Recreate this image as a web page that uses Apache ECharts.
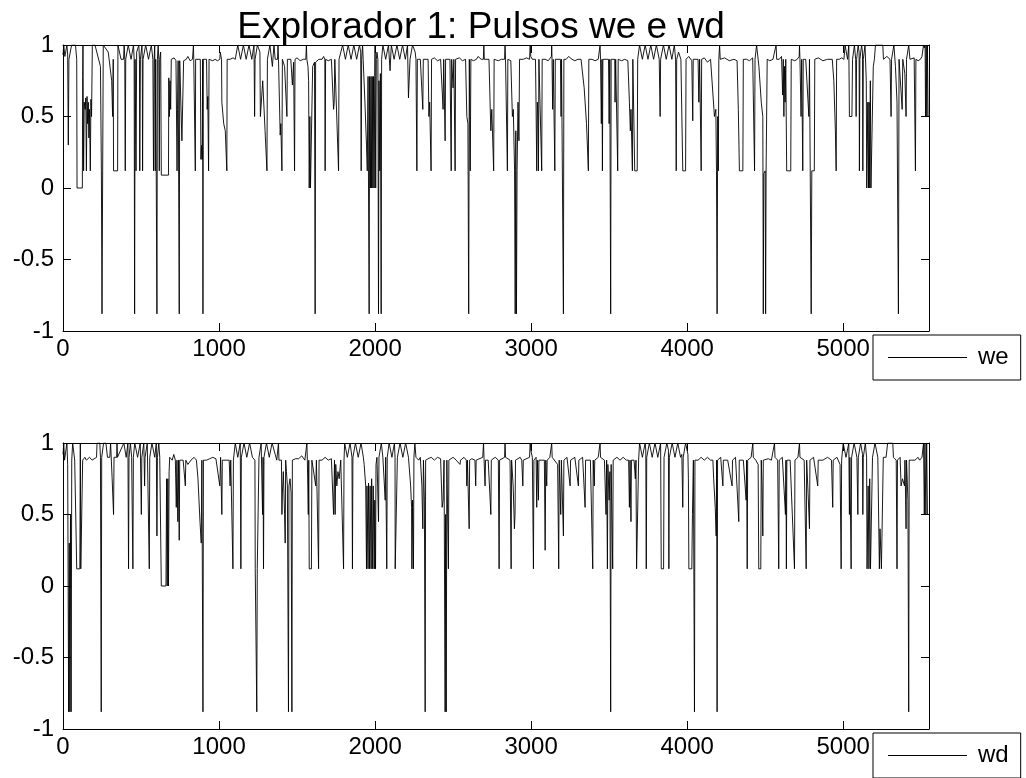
<!DOCTYPE html>
<html>
<head>
<meta charset="utf-8">
<script src="https://cdn.jsdelivr.net/npm/echarts@6/dist/echarts.min.js"></script>
<style>html,body{margin:0;padding:0;background:#fff}#c{width:1026px;height:778px}</style>
</head>
<body>
<div id="c"></div>
<script>
const titleText = 'Explorador 1: Pulsos we e wd';
const weName = 'we';
const wdName = 'wd';

const wePts = [[0,0.93],[5,1],[12,0.92],[20,0.92],[25,1],[30,0.93],[34,0.3],[38,0.9],[50,0.9],[55,1],[80,1],[88,0.9],[90,0],[124,0],[126,0.78],[128,1],[132,0.12],[136,0.6],[142,0.55],[146,0.63],[150,0.12],[154,0.64],[158,0.45],[162,0.6],[166,0.35],[170,0.55],[175,0.12],[179,0.62],[183,0.5],[188,1],[205,1],[240,0.85],[246,0.12],[250,-0.88],[254,-0.88],[258,1],[270,1],[290,0.95],[312,0.75],[318,0.5],[322,0.9],[324,0.12],[350,0.12],[352,1],[360,1],[372,0.9],[388,0.9],
[392,1],[396,0.9],[399,0.12],[402,0.9],[418,1],[436,0.9],[452,1],[456,0.9],[459,-0.88],[462,0.9],[468,0.12],[472,0.95],[486,1],[490,0.9],[492,0.12],[496,0.9],[506,1],[508,0.9],[510,0.12],[513,0.9],[530,1],[548,0.9],[566,1],[576,0.9],[580,0.12],[584,0.9],[588,1],[591,0.12],[594,0.9],[599,0.9],[602,-0.88],[605,0.9],[610,1],
[614,0.9],[617,0.12],[620,0.9],[626,0.95],[630,0.09],[676,0.09],[678,0.77],[682,0.5],[686,0.75],[690,0.55],[694,0.9],[700,0.89],[712,0.91],[720,0.91],[724,0.89],[728,0.89],[731,0.12],[734,0.55],[738,0.89],[742,0.89],[745,-0.88],[748,0.89],[758,0.89],[762,0.33],[770,0.33],[773,0.89],[790,0.9],[800,0.92],[815,0.89],[830,0.9],[836,1],[838,0.9],[846,0.9],[848,0.12],[850,0.9],[880,0.9],[884,0.2],[888,0.3],[892,0.2],[895,0.9],[897,-0.88],[899,0.9],[920,0.9],[924,0.55],[928,0.64],[933,0.12],[936,0.9],[960,0.89],[975,0.9],[990,0.89],[1005,0.9],[1008,0.95],[1014,0.95],[1016,0.9],[1018,0.6],[1030,0.45],[1040,0.4],[1050,0.12],[1052,0.9],[1070,0.9],[1090,0.91],
[1104,0.9],[1120,1],[1138,0.9],[1156,1],[1174,0.9],[1192,1],[1210,0.9],[1224,1],[1228,0.5],[1231,0.9],[1246,1],[1262,0.95],[1265,0.5],[1275,0.5],[1280,0.75],[1295,0.4],[1307,0.12],[1310,0.9],[1326,1],[1342,0.85],[1352,1],[1360,0.9],
[1375,0.9],[1378,1],[1381,0.9],[1388,0.9],[1392,0.37],[1396,0.45],[1403,0.12],[1406,0.9],[1420,0.85],[1435,0.5],[1438,0.9],[1460,0.9],[1470,0.72],[1478,0.88],[1484,0.12],[1487,0.9],[1500,0.91],[1520,0.89],[1540,0.9],[1556,0.9],[1560,1],[1563,0.9],[1570,0.85],[1574,0.75],[1578,0],[1582,0.5],[1586,0],[1595,0],[1600,0.85],[1612,0.88],[1616,-0.88],[1619,0.88],[1640,0.9],[1660,0.9],[1670,0.92],[1678,0.9],[1680,0.12],[1683,0.9],[1700,0.89],[1720,0.9],[1730,0.9],[1734,0.55],[1738,0.6],[1742,0.9],[1752,0.9],[1766,0.12],[1769,0.9],[1780,0.9],[1792,1],
[1810,0.9],[1828,1],[1846,0.9],[1864,1],[1882,0.9],[1900,1],[1908,0.95],[1911,0.12],[1914,0.9],[1920,1],[1935,0.6],[1945,0.3],[1950,0.12],[1955,0.78],[1958,0],[1962,-0.88],[1965,0.78],[1970,0],[1974,0.78],[1978,0],[1982,0.78],[1986,0],[1990,0.78],[1994,0],[1998,0.78],[2000,1],[2004,0],[2008,0.9],[2012,0.95],[2018,0.9],[2022,-0.88],[2025,0.75],[2030,0.12],[2034,0.8],[2039,-0.88],[2042,0.9],
[2050,1],[2068,0.9],[2086,1],[2096,0.82],[2104,1],[2122,0.9],[2140,1],[2158,0.9],[2176,1],[2194,0.9],[2208,1],[2214,0.63],[2220,0.63],[2224,0.9],[2240,1],[2257,0.95],
[2262,0.9],[2268,0.12],[2271,0.9],[2290,0.9],[2306,0.55],[2309,0.9],[2340,0.9],[2345,0.5],[2350,0.6],[2359,0.12],[2362,0.9],[2380,0.91],[2400,0.89],[2420,0.9],[2436,0.55],[2440,0.9],[2449,0.33],[2452,0.9],[2480,0.9],[2488,0.12],[2491,0.9],[2500,0.7],[2505,0.9],[2513,0.12],[2516,0.9],[2540,0.91],[2560,0.89],[2580,0.9],[2588,0.5],[2595,0.45],[2600,-0.88],[2604,0.9],[2610,0.12],[2614,0.9],[2630,0.89],[2650,0.9],[2660,0.92],[2670,0.92],[2680,0.9],[2694,0.9],[2697,1],[2700,0.9],[2730,0.9],[2737,0.6],[2742,0.4],[2748,0.55],[2760,0.12],[2763,0.9],[2790,0.89],[2810,0.9],[2830,0.9],[2833,1],[2836,0.9],[2848,0.12],[2851,0.9],[2870,0.89],[2880,0.5],[2886,0.55],[2894,0.12],[2898,-0.88],[2902,0.4],[2906,-0.88],[2910,0.12],[2916,0.6],[2922,0.33],[2926,0.9],[2950,0.9],[2970,0.91],[2990,0.9],[2994,1],[2998,0.92],[3005,0.92],[3008,0.9],[3028,0.9],[3032,0.55],[3036,0.12],[3040,0.6],[3044,0.5],[3047,0.12],[3050,0.9],[3068,0.12],[3071,0.9],[3090,0.9],[3110,0.89],[3130,0.92],[3132,1],[3134,0.9],[3138,0.55],[3142,0.9],[3152,0.12],[3155,0.9],[3188,0.9],[3192,0.5],[3195,0.9],[3204,0.9],[3207,-0.88],[3210,0.9],[3225,0.9],[3240,0.92],[3262,0.9],[3280,0.89],[3300,0.9],[3320,0.9],[3340,0.7],[3355,0.45],[3367,0.12],[3370,0.9],[3390,0.9],[3410,0.89],[3430,0.9],[3442,1],[3445,0.9],[3450,0.45],[3454,0.9],[3457,0.12],[3460,0.9],[3496,0.9],[3500,0.45],[3504,0.9],[3510,-0.88],[3513,0.9],[3536,0.9],[3538,0.6],[3542,0.9],[3555,0.12],[3558,0.9],[3580,0.89],[3600,0.9],[3620,0.89],[3630,0.6],[3636,0.4],[3640,0.55],[3649,0.12],[3652,0.9],[3660,0.9],[3664,0.12],[3680,0.12],[3683,0.9],
[3695,1],[3713,0.9],[3731,1],[3749,0.9],[3767,1],[3785,0.9],[3803,1],[3821,0.9],[3827,0.5],[3830,0.9],[3848,1],[3866,0.9],[3884,1],[3902,0.9],[3918,1],[3926,0.9],[3930,0.12],[3933,0.9],
[3945,0.95],[3960,0.9],[3972,0.12],[3990,0.12],[3993,0.9],[4010,0.92],[4030,0.89],[4036,0.47],[4039,0.9],[4070,0.9],[4075,0.6],[4080,0.9],[4090,0.12],[4093,0.9],[4110,0.91],[4130,0.88],[4150,0.9],[4160,0.9],[4175,0.5],[4184,0.55],[4188,0.12],[4192,-0.88],[4196,0.5],[4200,0.12],[4203,0.9],[4208,1],[4212,0.9],[4240,0.91],[4270,0.89],[4300,0.9],[4320,0.89],[4328,0.55],[4331,0.55],[4335,0.12],[4357,0.12],[4360,0.9],[4380,0.9],[4400,0.89],[4420,0.91],[4432,0.12],[4435,0.9],[4445,1],[4460,0.85],[4475,0.6],[4485,0.5],[4488,-0.88],[4491,0.1],[4500,0.12],[4503,-0.88],[4506,0.12],[4510,0.12],[4513,0.9],[4530,0.89],[4550,0.9],[4570,1],[4574,0.9],[4590,0.9],[4605,0.92],[4612,0.65],[4616,0.9],[4620,0.5],[4624,0.85],[4628,0.6],[4632,0.9],[4638,0.12],[4664,0.12],[4667,0.9],[4690,0.89],[4705,0.9],[4718,0.92],[4720,1],[4723,0.9],[4730,0.5],[4734,0.9],[4741,0.12],[4744,0.9],[4760,0.9],[4780,0.5],[4784,0.9],[4795,-0.88],[4799,0.12],[4815,0.12],[4818,0.9],[4840,0.91],[4870,0.89],[4900,0.9],[4930,0.9],[4940,0.75],[4950,0.4],[4955,0.12],[4958,0.9],[4975,0.9],[4990,0.91],[5005,0.9],
[5012,1],[5028,0.9],[5036,1],[5040,0.5],[5056,0.5],[5060,0.9],[5072,1],[5080,0.9],[5083,0.5],[5086,0.9],[5096,1],[5102,0.95],[5104,0.12],[5107,0.9],[5118,1],[5124,0.95],[5126,0.12],[5129,0.9],[5140,1],
[5148,0.75],[5151,0],[5158,0.6],[5162,0],[5166,0.6],[5170,0],[5174,0.75],[5178,0],[5190,0],[5193,0.85],[5200,0.9],[5207,1],[5254,1],[5258,0.9],[5270,0.9],[5280,0.92],[5300,0.9],[5307,0.5],[5310,0.9],[5325,1],[5335,0.85],[5345,0.6],[5354,-0.88],[5358,0.9],[5370,0.9],[5378,0.55],[5382,0.9],[5395,0.8],[5403,0.5],[5406,0.9],[5420,1],[5428,0.9],[5440,0.9],[5455,0.91],[5463,0.12],[5466,0.9],[5480,0.89],[5495,0.9],[5505,0.92],[5512,0.92],[5515,1],[5520,0.98],[5525,1],[5528,0.5],[5532,1],[5536,0.5],[5540,1],[5544,0.5],[5548,0.5]];

const wdPts = [[0,0.92],[5,1],[10,0.88],[20,0.88],[25,1],[30,0.85],[34,0.85],[36,-0.88],[40,0.3],[44,-0.88],[48,0.5],[52,-0.88],[56,0.88],[62,1],[70,1],[75,0.88],[84,0.88],[88,0.12],[108,0.12],[111,1],[114,0.12],[124,0.12],[126,0.88],[135,0.88],[140,0.9],[150,0.88],[170,0.9],[186,0.88],[215,0.9],[218,1],[236,1],[240,0.9],[243,0.9],[245,-0.88],[248,0.9],[260,1],[275,1],[285,0.9],[300,0.9],[305,1],[315,0.75],[324,0.5],[327,0.9],[344,0.9],[346,1],[349,0.9],
[390,1],[405,0.9],[416,1],[420,0.12],[423,0.9],[432,1],[440,0.9],[448,0.12],[451,0.9],
[460,1],[478,0.9],[495,1],[502,0.5],[505,0.9],[518,1],[523,0.7],[526,0.9],[540,1],[553,0.12],[556,0.9],[570,1],[588,0.9],[598,1],[602,0.35],[605,0.9],[614,1],[620,0.9],
[626,0.9],[630,0],[660,0],[664,0.75],[668,0],[672,0.75],[676,0],[680,0.8],[684,0.9],[700,0.88],[710,0.92],[720,0.88],[726,0.55],[730,0.88],[736,0.45],[740,0.88],[745,0.32],[748,0.88],[770,0.88],[784,0.7],[787,0.88],[800,0.85],[820,0.88],[840,0.9],[855,0.88],[865,0.75],[878,0.45],[886,0.3],[890,0.88],[897,-0.88],[900,0.88],[920,0.88],[940,0.89],[960,0.9],[980,0.89],[1005,0.7],[1010,0.9],[1018,0.5],[1021,0.88],[1065,0.88],[1071,0.7],[1075,0.88],[1086,0.88],[1089,0.12],[1092,0.88],
[1104,1],[1120,0.9],[1136,1],[1140,0.12],[1143,0.9],[1160,1],[1178,0.9],[1196,1],[1214,0.9],[1230,0.88],[1232,0.12],[1240,0.12],[1242,-0.88],[1245,0.12],[1253,0.12],[1256,0.9],[1270,1],[1279,0.5],[1282,0.9],[1285,0.12],[1288,0.9],[1304,1],[1322,0.9],[1340,1],[1360,0.92],
[1370,0.88],[1381,1],[1384,0.88],[1400,0.88],[1403,0.5],[1406,0.65],[1412,0.8],[1420,0.5],[1424,0.3],[1427,0.88],[1432,0.8],[1438,0.7],[1445,-0.88],[1448,0.7],[1455,0.75],[1462,0.65],[1467,-0.88],[1470,0.88],[1490,0.89],[1510,0.89],[1530,0.91],[1550,0.88],[1560,0.88],[1563,1],[1566,0.88],[1572,0.5],[1575,0.88],[1578,0.12],[1592,0.12],[1595,0.88],[1620,0.7],[1624,0.88],[1638,0.12],[1641,0.88],[1660,0.88],[1680,0.9],[1700,0.88],[1720,0.89],[1730,0.88],[1734,0.5],[1740,0.88],[1744,0.5],[1748,0.85],[1755,0.7],[1762,0.8],[1770,0.75],[1780,0.88],[1798,0.12],[1801,0.88],
[1805,1],[1822,0.9],[1840,1],[1852,0.9],[1855,0.12],[1858,0.9],[1874,1],[1892,0.9],[1910,1],[1925,0.9],
[1930,0.85],[1940,0.7],[1945,0.12],[1948,0.7],[1955,0.12],[1958,0.72],[1965,0.12],[1968,0.7],[1975,0.12],[1978,0.75],[1985,0.12],[1988,0.7],[1995,0.12],[1998,0.6],[2003,0.12],[2006,0.85],[2012,0.9],[2018,0.9],[2022,0.45],[2025,0.9],[2040,1],[2050,0.9],[2060,0.9],[2065,0.6],[2068,0.9],[2075,0.12],[2078,0.9],
[2090,1],[2108,0.9],[2124,1],[2128,0.9],[2129,0.12],[2140,0.12],[2143,0.9],[2160,1],[2178,0.9],[2196,1],[2214,0.9],
[2228,0.7],[2234,0.55],[2236,0.12],[2240,0.6],[2246,0.12],[2249,0.9],[2255,1],[2262,0.9],[2280,0.88],[2290,0.9],[2300,0.7],[2306,0.4],[2310,0.88],[2316,0.6],[2321,-0.88],[2324,0.88],[2340,0.89],[2360,0.9],[2380,0.88],[2400,0.9],[2420,0.89],[2430,0.55],[2436,0.6],[2442,0.88],[2449,-0.88],[2452,0.5],[2456,-0.88],[2460,0.88],[2470,0.12],[2473,0.88],[2500,0.9],[2520,0.88],[2544,0.85],[2548,0.88],[2570,0.9],[2585,0.88],[2588,0.7],[2592,0.88],[2603,0.4],[2606,0.88],[2620,0.89],[2640,0.88],[2645,0.7],[2648,0.88],[2690,0.9],[2695,1],[2698,0.9],[2705,0.7],[2708,0.88],[2725,0.88],[2742,0.5],[2745,0.88],[2770,0.9],[2790,0.88],[2795,0.12],[2798,0.88],[2830,0.9],[2833,1],[2836,0.9],[2865,0.88],[2872,0.12],[2875,0.88],[2885,0.7],[2893,0.4],[2897,0.5],[2900,0.88],[2930,0.9],[2940,0.88],[2947,0.7],[2950,0.88],[2990,0.9],[2994,1],[2998,0.95],[3005,0.95],[3008,0.9],[3015,0.12],[3018,0.88],[3032,0.9],[3036,0.55],[3040,0.88],[3047,0.6],[3050,0.88],[3085,0.88],[3090,0.25],[3094,0.88],[3100,0.7],[3103,0.88],[3120,0.9],[3132,1],[3135,0.9],[3170,0.85],[3177,0.12],[3180,0.88],[3190,0.5],[3194,0.88],[3207,0.35],[3210,0.88],[3230,0.9],[3250,0.7],[3253,0.88],[3280,0.9],[3303,0.7],[3306,0.88],[3330,0.9],[3346,0.55],[3349,0.88],[3380,0.88],[3395,0.12],[3398,0.88],[3405,0.7],[3408,0.88],[3430,0.9],[3442,1],[3445,0.9],[3470,0.88],[3480,0.5],[3484,0.88],[3489,0.12],[3492,0.85],[3500,0.6],[3505,0.8],[3510,-0.88],[3513,0.85],[3523,0.12],[3526,0.88],[3550,0.9],[3570,0.88],[3590,0.9],[3610,0.88],[3625,0.88],[3630,0.55],[3634,0.88],[3640,0.45],[3643,0.88],[3660,0.88],[3668,0.75],[3672,0.88],[3676,0.12],[3686,0.12],[3689,0.88],
[3695,1],[3713,0.9],[3731,1],[3735,0.95],[3738,0.12],[3741,0.9],[3758,1],[3776,0.9],[3794,1],[3812,0.9],[3830,1],[3834,0.12],[3849,0.12],[3852,0.9],[3870,1],[3880,0.95],[3883,0.12],[3886,0.9],[3904,1],[3922,0.9],[3940,1],[3958,0.9],[3966,0.92],[3972,0.55],[3975,0.9],[3990,1],[4005,0.92],
[4008,0.75],[4011,0.12],[4030,0.12],[4034,0.5],[4040,0.88],[4047,-0.88],[4050,0.88],[4070,0.88],[4090,0.9],[4110,0.88],[4130,0.9],[4150,0.88],[4165,0.88],[4170,0.75],[4180,0.55],[4186,0.35],[4189,0.88],[4192,-0.88],[4195,0.88],[4215,0.9],[4229,0.7],[4232,0.88],[4260,0.88],[4288,0.7],[4291,0.88],[4310,0.9],[4331,0.45],[4334,0.88],[4360,0.88],[4378,0.6],[4381,0.88],[4385,0.12],[4388,0.88],[4410,0.9],[4421,1],[4424,0.9],[4440,0.88],[4455,0.85],[4459,0.12],[4472,0.12],[4475,0.88],[4480,0.7],[4485,0.35],[4488,0.88],[4520,0.89],[4540,0.88],[4560,1],[4563,0.9],[4580,0.88],[4587,0.12],[4590,0.88],[4610,0.9],[4630,0.5],[4633,0.88],[4636,0.12],[4639,0.88],[4660,0.88],[4688,0.12],[4691,0.88],[4710,0.9],[4720,1],[4723,0.9],[4750,0.88],[4763,0.12],[4766,0.88],[4775,0.65],[4784,0.4],[4787,0.88],[4810,0.9],[4837,0.7],[4840,0.88],[4870,0.88],[4900,0.9],[4925,0.88],[4933,0.55],[4936,0.88],[4960,0.9],[4980,0.85],[4987,0.12],[4990,0.88],
[5000,1],[5018,0.9],[5036,1],[5040,0.5],[5043,0.9],[5051,0.12],[5054,0.9],[5070,1],[5088,0.9],[5094,0.5],[5097,0.9],[5112,1],[5124,0.92],[5126,0.5],[5129,0.9],[5142,1],[5150,0.9],
[5153,0.12],[5160,0.7],[5165,0.12],[5170,0.75],[5175,0.12],[5185,0.12],[5188,0.9],[5204,1],[5222,0.9],[5232,0.12],[5236,0.4],[5245,0.12],[5254,0.12],[5257,0.9],[5275,0.9],[5285,1],[5318,1],[5322,0.9],[5340,0.88],[5345,0.12],[5348,0.88],[5365,0.9],[5371,0.7],[5380,0.75],[5393,0.7],[5396,0.88],[5403,0.4],[5406,0.88],[5415,0.6],[5420,-0.88],[5423,0.88],[5440,0.88],[5460,0.88],[5480,0.9],[5490,0.88],[5505,0.9],[5515,1],[5520,0.5],[5524,1],[5530,0.5],[5535,1],[5540,0.5],[5548,0.5]];

const X_MAX = 5550;
const FONT = "'Liberation Sans', Arial, Helvetica, sans-serif";

const chart = echarts.init(document.getElementById('c'), null, {renderer: 'canvas'});

function xAx(gi, pos, labels) {
  return {
    type: 'value', gridIndex: gi, position: pos, min: 0, max: X_MAX, interval: 1000,
    axisLine: {show: true, onZero: false, lineStyle: {color: '#000', width: 1}},
    axisTick: {show: true, inside: true, length: 8, lineStyle: {color: '#000'}},
    axisLabel: {show: labels, color: '#000', fontSize: 24, fontFamily: FONT, margin: 6, showMaxLabel: false,
      formatter: function (v) { return String(v); }},
    splitLine: {show: false}
  };
}
function yAx(gi, pos, labels) {
  return {
    type: 'value', gridIndex: gi, position: pos, min: -1, max: 1, interval: 0.5,
    axisLine: {show: true, onZero: false, lineStyle: {color: '#000', width: 1}},
    axisTick: {show: true, inside: true, length: 8, lineStyle: {color: '#000'}},
    axisLabel: {show: labels, color: '#000', fontSize: 24, fontFamily: FONT, margin: 9,
      formatter: function (v) { return String(v); }},
    splitLine: {show: false}
  };
}
function legendBox(name, top) {
  return {
    data: [{name: name, icon: 'rect'}], left: 873, top: top, orient: 'horizontal',
    backgroundColor: '#fff', borderColor: '#000', borderWidth: 1, borderRadius: 0,
    padding: [9, 12, 9, 15], itemWidth: 79, itemHeight: 1, itemGap: 0,
    itemStyle: {color: '#000', borderWidth: 0},
    textStyle: {color: '#000', fontSize: 24, fontFamily: FONT, padding: [0, 0, 0, 6], lineHeight: 27},
    selectedMode: false
  };
}
function lineSeries(name, pts, idx) {
  return {
    name: name, type: 'line', xAxisIndex: idx, yAxisIndex: idx, data: pts,
    showSymbol: false, symbol: 'none', sampling: null, animation: false, clip: true,
    lineStyle: {color: '#000', width: 0.9}, itemStyle: {color: '#000'}
  };
}

chart.setOption({
  backgroundColor: '#fff',
  animation: false,
  title: {
    text: titleText, left: 476, top: 4, textAlign: 'center',
    textStyle: {color: '#000', fontSize: 37, fontWeight: 'normal', fontFamily: FONT}
  },
  grid: [
    {left: 63, right: 97, top: 45, height: 286, show: false},
    {left: 63, right: 97, top: 443, height: 286, show: false}
  ],
  xAxis: [xAx(0, 'bottom', true), xAx(1, 'bottom', true), xAx(0, 'top', false), xAx(1, 'top', false)],
  yAxis: [yAx(0, 'left', true), yAx(1, 'left', true), yAx(0, 'right', false), yAx(1, 'right', false)],
  legend: [legendBox(weName, 335), legendBox(wdName, 733)],
  series: [lineSeries(weName, wePts, 0), lineSeries(wdName, wdPts, 1)]
});
</script>
</body>
</html>
